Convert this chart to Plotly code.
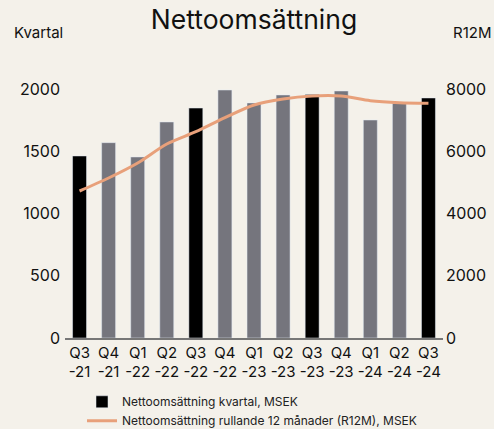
import plotly.graph_objects as go

quarters = ["Q3<br>-21", "Q4<br>-21", "Q1<br>-22", "Q2<br>-22", "Q3<br>-22", "Q4<br>-22",
            "Q1<br>-23", "Q2<br>-23", "Q3<br>-23", "Q4<br>-23", "Q1<br>-24", "Q2<br>-24", "Q3<br>-24"]
kvartal = [1462, 1569, 1454, 1735, 1847, 1992, 1888, 1952, 1955, 1984, 1751, 1885, 1928]
r12m = [4723, 5140, 5622, 6233, 6628, 7079, 7486, 7679, 7775, 7775, 7625, 7560, 7540]
bar_colors = ["#000000" if q.startswith("Q3") else "#75757D" for q in quarters]

BG = "#F4F1EA"
FONT = "Inter"
fig = go.Figure()
fig.add_trace(go.Bar(x=quarters, y=kvartal, marker_color=bar_colors, width=0.48,
                     name="Nettoomsättning kvartal, MSEK"))
fig.add_trace(go.Scatter(x=quarters, y=r12m, mode="lines", yaxis="y2",
                         line=dict(color="#E8A07A", width=3, shape="spline", smoothing=0.8),
                         name="Nettoomsättning rullande 12 månader (R12M), MSEK"))

fig.update_layout(
    width=494, height=429,
    paper_bgcolor=BG, plot_bgcolor=BG,
    margin=dict(l=65, r=51, t=89, b=91, autoexpand=False),
    font=dict(family=FONT, color="#111111"),
    title=dict(text="Nettoomsättning", xref="paper", x=0.5, xanchor="center", y=0.953,
               yanchor="middle", font=dict(size=26.5, family=FONT, color="#111111")),
    showlegend=True,
    legend=dict(x=0.045, y=-0.198, xanchor="left", yanchor="top", orientation="v",
                font=dict(size=12, family=FONT, color="#222222"), bgcolor="rgba(0,0,0,0)",
                tracegroupgap=0),
    xaxis=dict(showgrid=False, showline=True, linecolor="#777777", linewidth=1.5,
               tickfont=dict(size=15), ticks="", range=[-0.5, 12.5], automargin=False),
    yaxis=dict(range=[0, 2000], tickvals=[0, 500, 1000, 1500, 2000], showgrid=False,
               zeroline=False, tickfont=dict(size=16), ticks="", automargin=False,
               ticklabelstandoff=4),
    yaxis2=dict(range=[0, 8000], tickvals=[0, 2000, 4000, 6000, 8000], overlaying="y",
                side="right", showgrid=False, zeroline=False, tickfont=dict(size=16), ticks="",
                automargin=False, ticklabelstandoff=2),
    annotations=[
        dict(text="Kvartal", xref="paper", yref="paper", x=-0.14, y=1.225, xanchor="left",
             yanchor="middle", showarrow=False, font=dict(size=15)),
        dict(text="R12M", xref="paper", yref="paper", x=1.02, y=1.225, xanchor="left",
             yanchor="middle", showarrow=False, font=dict(size=15)),
    ],
)
fig.write_html("out.html", config={"displayModeBar": False},
               post_script="document.body.style.margin='0';document.body.style.background='%s';" % BG)
